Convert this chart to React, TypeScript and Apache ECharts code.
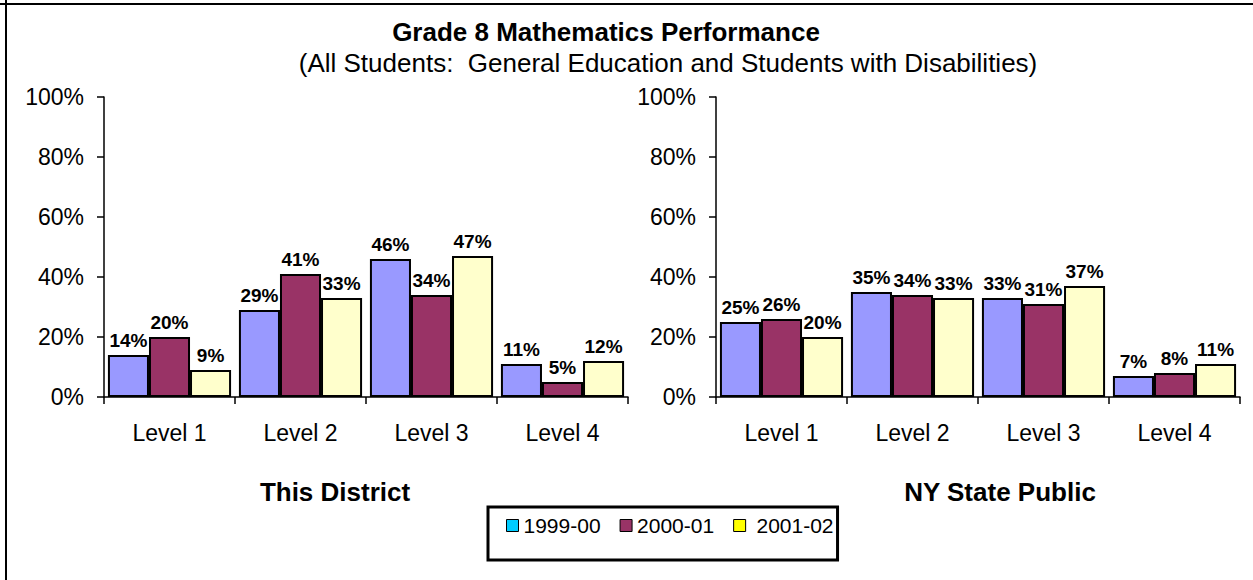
import React, { useEffect, useRef } from "react";
import * as echarts from "echarts";

const categories = ["Level 1", "Level 2", "Level 3", "Level 4"];
const seriesNames = ["1999-00", "2000-01", "2001-02"];
const districtValues = [
  [14, 29, 46, 11],
  [20, 41, 34, 5],
  [9, 33, 47, 12],
];
const stateValues = [
  [25, 35, 33, 7],
  [26, 34, 31, 8],
  [20, 33, 37, 11],
];
const barColors = ["#9999FF", "#993366", "#FFFFCC"];
const legendColors = ["#00CCFF", "#993366", "#FFFF00"];
const yTicks = [0, 20, 40, 60, 80, 100];

const FONT = "'Liberation Sans', Arial, sans-serif";

export default function App() {
  const ref = useRef<HTMLDivElement>(null);
  useEffect(() => {
    if (!ref.current) return;
    const chart = echarts.init(ref.current, undefined, { renderer: "svg" });
    const grids = [
      { left: 104, top: 97, width: 524, height: 300 },
      { left: 716, top: 97, width: 524, height: 300 },
    ];
    const xAxes = grids.map((_, i) => ({
      type: "category" as const,
      gridIndex: i,
      data: categories,
      axisLine: { lineStyle: { color: "#000", width: 1.5 } },
      axisTick: { show: true, length: 7, lineStyle: { color: "#000", width: 1.5 } },
      axisLabel: { color: "#000", fontSize: 23, fontFamily: FONT, margin: 24 },
    }));
    const yAxes = grids.map((_, i) => ({
      type: "value" as const,
      gridIndex: i,
      min: yTicks[0],
      max: yTicks[yTicks.length - 1],
      interval: yTicks[1] - yTicks[0],
      splitLine: { show: false },
      axisLine: { show: true, lineStyle: { color: "#000", width: 1.5 } },
      axisTick: { show: true, length: 7, lineStyle: { color: "#000", width: 1.5 } },
      axisLabel: {
        color: "#000",
        fontSize: 23,
        fontFamily: FONT,
        margin: 20,
        formatter: "{value}%",
      },
    }));
    const mk = (vals: number[][], gi: number) =>
      vals.map((v, si) => ({
        type: "bar" as const,
        name: seriesNames[si],
        xAxisIndex: gi,
        yAxisIndex: gi,
        data: v,
        barGap: "0%",
        barCategoryGap: "6%",
        itemStyle: { color: barColors[si], borderColor: "#000", borderWidth: 2 },
        label: {
          show: true,
          position: "top" as const,
          distance: 5,
          formatter: "{c}%",
          color: "#000",
          fontSize: 19,
          fontWeight: "bold" as const,
          fontFamily: FONT,
        },
      }));
    chart.setOption({
      animation: false,
      backgroundColor: "#fff",
      grid: grids,
      xAxis: xAxes,
      yAxis: yAxes,
      series: [...mk(districtValues, 0), ...mk(stateValues, 1)],
      legend: {
        left: 488,
        top: 507,
        orient: "horizontal",
        icon: "rect",
        itemWidth: 12,
        itemHeight: 12,
        itemGap: 19,
        borderColor: "#000",
        borderWidth: 3,
        padding: [8, 4, 24, 18],
        textStyle: { color: "#000", fontSize: 21, fontFamily: FONT },
        formatter: (name: string) => (name === "2001-02" ? " " + name : name),
        data: seriesNames.map((n, i) => ({
          name: n,
          itemStyle: { color: legendColors[i], borderColor: "#000", borderWidth: 1 },
        })),
      },
      graphic: [
        { type: "line", shape: { x1: 0, y1: 4, x2: 1253, y2: 4 }, style: { stroke: "#000", lineWidth: 2 } },
        { type: "line", shape: { x1: 6, y1: 0, x2: 6, y2: 580 }, style: { stroke: "#000", lineWidth: 2 } },
        {
          type: "text",
          x: 606,
          y: 32,
          style: {
            text: "Grade 8 Mathematics Performance",
            fontSize: 26,
            fontWeight: "bold",
            fontFamily: FONT,
            fill: "#000",
            align: "center",
            verticalAlign: "middle",
          },
        },
        {
          type: "text",
          x: 668,
          y: 63,
          style: {
            text: "(All Students:  General Education and Students with Disabilities)",
            fontSize: 26,
            fontFamily: FONT,
            fill: "#000",
            align: "center",
            verticalAlign: "middle",
          },
        },
        {
          type: "text",
          x: 335,
          y: 492,
          style: {
            text: "This District",
            fontSize: 26,
            fontWeight: "bold",
            fontFamily: FONT,
            fill: "#000",
            align: "center",
            verticalAlign: "middle",
          },
        },
        {
          type: "text",
          x: 1000,
          y: 492,
          style: {
            text: "NY State Public",
            fontSize: 26,
            fontWeight: "bold",
            fontFamily: FONT,
            fill: "#000",
            align: "center",
            verticalAlign: "middle",
          },
        },
      ],
    });
    return () => chart.dispose();
  }, []);
  return (
    <div
      ref={ref}
      style={{ position: "fixed", left: 0, top: 0, width: 1253, height: 580, background: "#fff" }}
    />
  );
}
